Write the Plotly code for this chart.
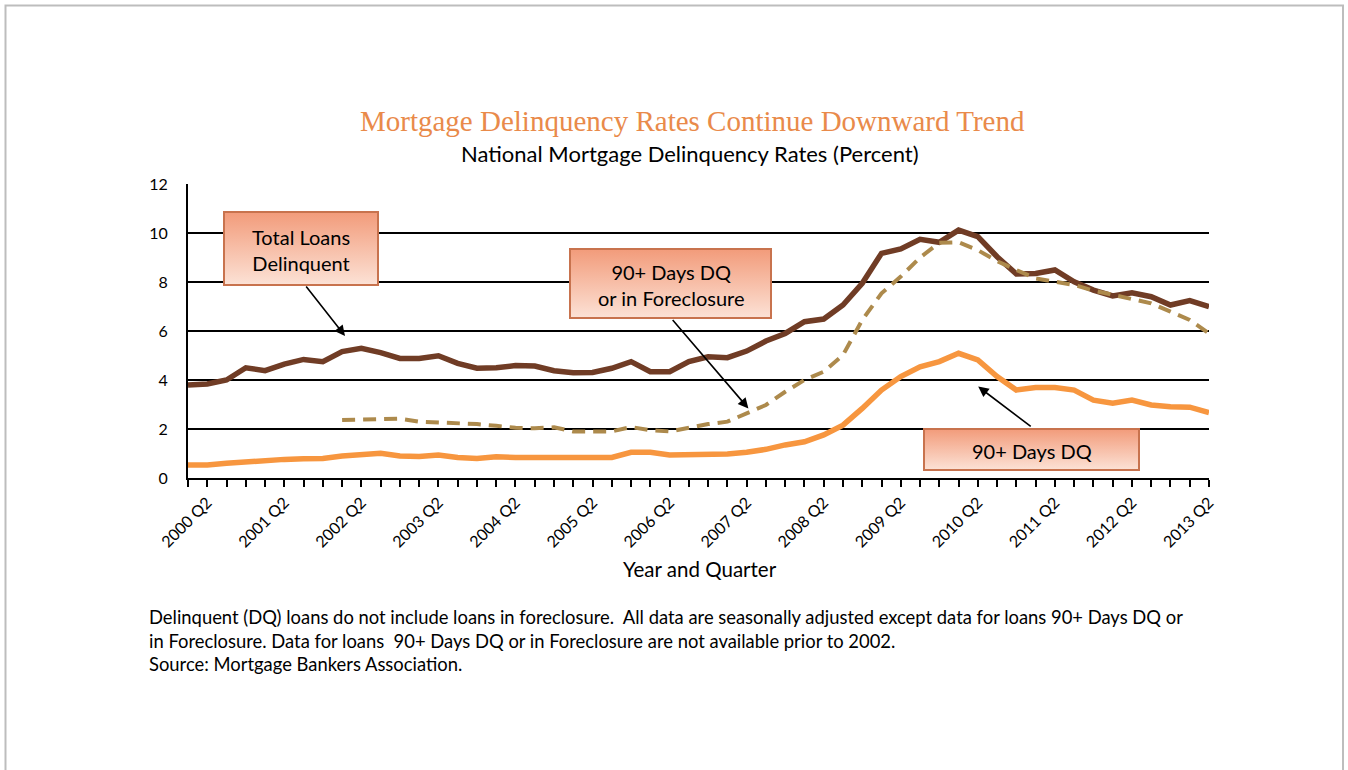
import base64
import plotly.graph_objects as go

# ---------------- data ----------------
quarters = [f"{y} Q{q}" for y in range(2000, 2014) for q in range(1, 5)][:54]

total_delinquent = [3.80, 3.84, 4.00, 4.50, 4.38, 4.65, 4.84, 4.75, 5.16, 5.29, 5.12, 4.88, 4.88, 4.99,
                    4.68, 4.48, 4.50, 4.59, 4.57, 4.38, 4.30, 4.31, 4.48, 4.75, 4.34, 4.34, 4.75, 4.95,
                    4.91, 5.18, 5.59, 5.90, 6.38, 6.49, 7.06, 7.95, 9.17, 9.35, 9.74, 9.62, 10.12,
                    9.85, 9.03, 8.33, 8.35, 8.49, 8.01, 7.67, 7.43, 7.56, 7.40, 7.06, 7.24, 6.99]

dq90_or_foreclosure = [None, None, None, None, None, None, None, None,
                       2.37, 2.38, 2.43, 2.42, 2.30, 2.27,
                       2.20, 2.20, 2.13, 2.05, 2.03, 2.07, 1.90, 1.88, 1.90, 2.08, 1.95, 1.90, 2.05, 2.20,
                       2.30, 2.64, 2.98, 3.52, 4.00, 4.34, 5.02, 6.45, 7.54, 8.22, 9.00, 9.60, 9.62,
                       9.30, 8.85, 8.49, 8.15, 8.01, 7.88, 7.65, 7.47, 7.33, 7.13, 6.79, 6.45, 5.90]

dq90 = [0.53, 0.53, 0.60, 0.67, 0.71, 0.76, 0.79, 0.80, 0.90, 0.97, 1.01, 0.90, 0.88, 0.94,
        0.84, 0.80, 0.87, 0.84, 0.84, 0.87, 0.87, 0.84, 0.84, 1.05, 1.05, 0.94, 0.95, 0.97,
        0.98, 1.05, 1.17, 1.35, 1.48, 1.76, 2.16, 2.84, 3.59, 4.14, 4.54, 4.75, 5.09,
        4.82, 4.14, 3.59, 3.69, 3.69, 3.59, 3.18, 3.05, 3.18, 2.98, 2.91, 2.89, 2.67]

tick_text = [q if q.endswith("Q2") else "" for q in quarters]
y_ticks = [0, 2, 4, 6, 8, 10, 12]

# ---------------- layout geometry (page pixels) ----------------
W, H = 1348, 770
L, R, T, B = 188, 1209, 184, 478   # plot area


def px(xp):
    return (xp - L) / (R - L)


def py(yp):
    return (B - yp) / (B - T)


FONT = "Lato"

fig = go.Figure()
fig.add_trace(go.Scatter(x=quarters, y=total_delinquent, mode="lines", name="Total Loans Delinquent",
                         line=dict(color="#703C25", width=5.5)))
fig.add_trace(go.Scatter(x=quarters, y=dq90_or_foreclosure, mode="lines", name="90+ Days DQ or in Foreclosure",
                         line=dict(color="#AD8A4C", width=4, dash="13px,8px")))
fig.add_trace(go.Scatter(x=quarters, y=dq90, mode="lines", name="90+ Days DQ",
                         line=dict(color="#F7963F", width=5.5)))

fig.update_layout(
    width=W, height=H,
    margin=dict(l=L, r=W - R, t=T, b=H - B, pad=0),
    paper_bgcolor="white", plot_bgcolor="white",
    showlegend=False,
    font=dict(family=FONT, color="black"),
)
fig.update_xaxes(
    type="category", range=[0, 53],
    tickmode="array", tickvals=quarters, ticktext=tick_text,
    tickangle=-45, tickfont=dict(size=16, family=FONT, color="black"),
    ticks="outside", ticklen=7, tickwidth=1.5, tickcolor="black",
    showline=True, linecolor="black", linewidth=2,
    showgrid=False, zeroline=False,
)
fig.update_yaxes(
    range=[0, 12], tickvals=y_ticks,
    tickfont=dict(size=16, family=FONT, color="black"),
    showgrid=True, gridcolor="black", gridwidth=2,
    showline=True, linecolor="black", linewidth=2,
    zeroline=False, ticks="", ticklabelstandoff=15,
)


def grad_svg():
    svg = ("<svg xmlns='http://www.w3.org/2000/svg' width='200' height='70' viewBox='0 0 200 70' "
           "preserveAspectRatio='none'><defs><linearGradient id='g' x1='0' y1='0' x2='0' y2='1'>"
           "<stop offset='0' stop-color='#F29B7A'/><stop offset='1' stop-color='#FCE2D6'/>"
           "</linearGradient></defs><rect x='0' y='0' width='200' height='70' fill='url(#g)'/></svg>")
    return "data:image/svg+xml;base64," + base64.b64encode(svg.encode()).decode()


boxes = [
    # (x0, y0, x1, y1, text)
    (224, 212, 378, 285, "Total Loans<br>Delinquent"),
    (570, 249, 771, 318, "90+ Days DQ<br>or in Foreclosure"),
    (924, 429, 1139, 470, "90+ Days DQ"),
]
images, shapes, annotations = [], [], []
for x0, y0, x1, y1, txt in boxes:
    images.append(dict(source=grad_svg(), xref="paper", yref="paper", x=px(x0), y=py(y0),
                       sizex=px(x1) - px(x0), sizey=py(y0) - py(y1), sizing="stretch",
                       xanchor="left", yanchor="top", layer="above"))
    shapes.append(dict(type="rect", xref="paper", yref="paper", x0=px(x0), x1=px(x1), y0=py(y1), y1=py(y0),
                       line=dict(color="#C8734E", width=2), fillcolor="rgba(0,0,0,0)", layer="above"))
    annotations.append(dict(xref="paper", yref="paper", x=px((x0 + x1) / 2), y=py((y0 + y1) / 2 + 1),
                            text=txt, showarrow=False, font=dict(size=20, family=FONT, color="black"),
                            xanchor="center", yanchor="middle", align="center"))

# arrows: (tip x index, tip y value, tail offset px)
arrows = [(8.15, 5.80, -40, -51), (29.09, 2.84, -77, -90), (41.02, 3.73, 54, 41)]
for ax_, ay_, dx, dy in arrows:
    annotations.append(dict(x=ax_, y=ay_, xref="x", yref="y", ax=dx, ay=dy, axref="pixel", ayref="pixel",
                            text="", showarrow=True, arrowhead=2, arrowsize=1.3, arrowwidth=1.6,
                            arrowcolor="black"))

# titles & notes
annotations += [
    dict(xref="paper", yref="paper", x=px(692), y=py(121), xanchor="center", yanchor="middle",
         text="Mortgage Delinquency Rates Continue Downward Trend", showarrow=False,
         font=dict(family="Liberation Serif", size=29, color="#E98A4A")),
    dict(xref="paper", yref="paper", x=px(690), y=py(153), xanchor="center", yanchor="middle",
         text="National Mortgage Delinquency Rates (Percent)", showarrow=False,
         font=dict(family=FONT, size=22, color="black")),
    dict(xref="paper", yref="paper", x=px(700), y=py(569), xanchor="center", yanchor="middle",
         text="Year and Quarter", showarrow=False,
         font=dict(family=FONT, size=20.5, color="black")),
]
notes = [
    "Delinquent (DQ) loans do not include loans in foreclosure.  All data are seasonally adjusted except data for loans 90+ Days DQ or",
    "in Foreclosure. Data for loans  90+ Days DQ or in Foreclosure are not available prior to 2002.",
    "Source: Mortgage Bankers Association.",
]
for yy, line in zip([617, 641, 664], notes):
    annotations.append(dict(xref="paper", yref="paper", x=px(147), y=py(yy), xanchor="left", yanchor="middle",
                            text=line, showarrow=False, font=dict(family=FONT, size=18.4, color="black")))

# outer frame
shapes.append(dict(type="rect", xref="paper", yref="paper", x0=px(5.5), x1=px(1343), y0=py(800), y1=py(5.5),
                   line=dict(color="#BDBDBD", width=2), fillcolor="rgba(0,0,0,0)", layer="below"))

fig.update_layout(images=images, shapes=shapes, annotations=annotations)
fig.write_html("out.html", config={"displayModeBar": False},
               post_script="document.body.style.margin='0';document.body.style.overflow='hidden';")
